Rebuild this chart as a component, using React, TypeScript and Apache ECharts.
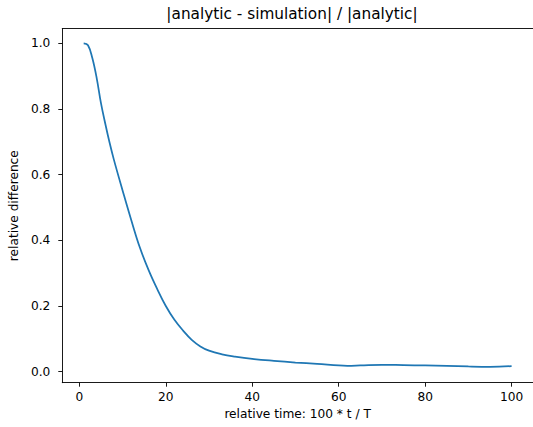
import React, { useEffect, useRef } from "react";
import * as echarts from "echarts";

const titleText = "|analytic - simulation| / |analytic|";
const xName = "relative time: 100 * t / T";
const yName = "relative difference";

const xs = [1, 2, 3, 4, 5, 6, 7, 8, 10, 12, 14, 16, 18, 20, 22, 24, 26, 28, 30, 33, 36, 40, 45, 50, 55, 60, 62, 65, 70, 75, 80, 85, 90, 95, 100];
const ys = [1.0, 0.994, 0.955, 0.895, 0.818, 0.755, 0.697, 0.645, 0.552, 0.462, 0.378, 0.31, 0.252, 0.2, 0.158, 0.125, 0.097, 0.077, 0.064, 0.053, 0.046, 0.039, 0.033, 0.028, 0.024, 0.019, 0.018, 0.019, 0.021, 0.02, 0.019, 0.018, 0.016, 0.015, 0.017];

const xTicks = [0, 20, 40, 60, 80, 100];
const yTicks = [0.0, 0.2, 0.4, 0.6, 0.8, 1.0];

export default function App() {
  const ref = useRef<HTMLDivElement>(null);
  useEffect(() => {
    document.body.style.margin = "0";
    const chart = echarts.init(ref.current!, null, { renderer: "svg" });
    const font = "DejaVu Sans";
    const fs = 12.2;
    const spine = { show: true, onZero: false, lineStyle: { color: "#000", width: 0.9 } };
    chart.setOption({
      animation: false,
      backgroundColor: "#ffffff",
      textStyle: { fontFamily: font },
      graphic: [
        {
          type: "text",
          x: 292,
          y: 14,
          style: {
            text: titleText,
            fontFamily: font,
            fontSize: 15.3,
            fill: "#000",
            align: "center",
            verticalAlign: "middle",
          },
        },
      ],
      grid: {
        left: 58.8,
        top: 28.7,
        width: 477.6,
        height: 354,
        containLabel: false,
      },
      xAxis: [
        {
          type: "value",
          position: "bottom",
          min: -3.95,
          max: 104.95,
          name: xName,
          nameLocation: "middle",
          nameGap: 23,
          nameTextStyle: { fontFamily: font, fontSize: fs, color: "#000" },
          axisLine: spine,
          splitLine: { show: false },
          axisTick: { show: true, length: 4, inside: false, customValues: xTicks, lineStyle: { color: "#000", width: 0.9 } },
          axisLabel: { customValues: xTicks, margin: 8, fontFamily: font, fontSize: fs, color: "#000", formatter: (v: number) => String(v) },
        },
        {
          type: "value",
          position: "top",
          min: -3.95,
          max: 104.95,
          axisLine: spine,
          splitLine: { show: false },
          axisTick: { show: false },
          axisLabel: { show: false },
        },
      ],
      yAxis: [
        {
          type: "value",
          position: "left",
          min: -0.0335,
          max: 1.0445,
          name: yName,
          nameLocation: "middle",
          nameRotate: 90,
          nameGap: 36,
          nameTextStyle: { fontFamily: font, fontSize: fs, color: "#000" },
          axisLine: spine,
          splitLine: { show: false },
          axisTick: { show: true, length: 4, inside: false, customValues: yTicks, lineStyle: { color: "#000", width: 0.9 } },
          axisLabel: { customValues: yTicks, margin: 12, fontFamily: font, fontSize: fs, color: "#000", formatter: (v: number) => v.toFixed(1) },
        },
        {
          type: "value",
          position: "right",
          min: -0.0335,
          max: 1.0445,
          axisLine: spine,
          splitLine: { show: false },
          axisTick: { show: false },
          axisLabel: { show: false },
        },
      ],
      series: [
        {
          type: "line",
          xAxisIndex: 0,
          yAxisIndex: 0,
          data: xs.map((x, i) => [x, ys[i]]),
          symbol: "none",
          smooth: 0.4,
          lineStyle: { color: "#1f77b4", width: 1.75 },
        },
      ],
    });
    return () => chart.dispose();
  }, []);
  return <div ref={ref} style={{ width: 533, height: 427 }} />;
}
